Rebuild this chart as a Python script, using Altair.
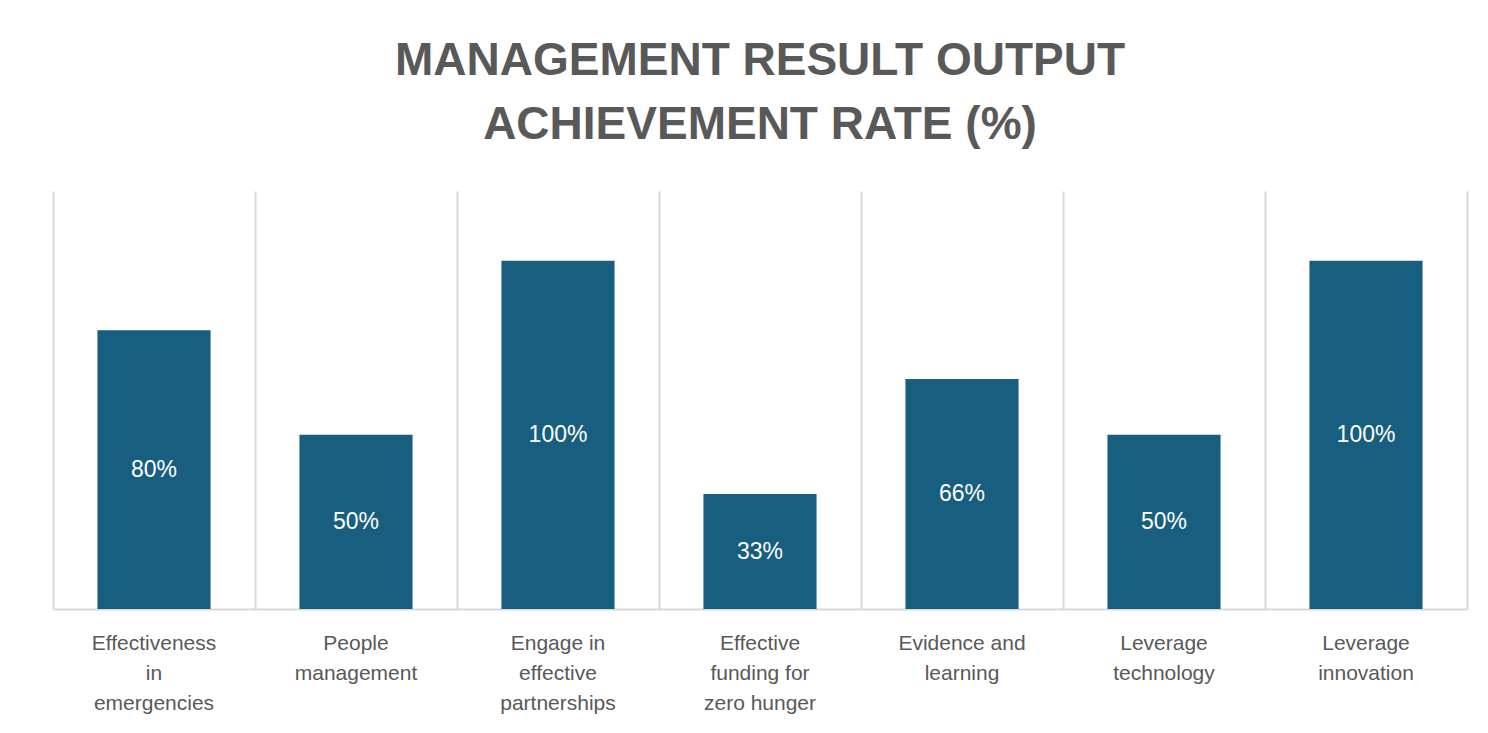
import altair as alt
import pandas as pd

categories = [
    "Effectiveness|in|emergencies",
    "People|management",
    "Engage in|effective|partnerships",
    "Effective|funding for|zero hunger",
    "Evidence and|learning",
    "Leverage|technology",
    "Leverage|innovation",
]
values = [80, 50, 100, 33, 66, 50, 100]
value_labels = ["80%", "50%", "100%", "33%", "66%", "50%", "100%"]

df = pd.DataFrame({"category": categories, "value": values, "label": value_labels})

GRID = "#d9d9d9"
TEXT = "#595959"
BAR = "#175e7f"

x = alt.X(
    "category:N",
    sort=categories,
    scale=alt.Scale(paddingInner=0, paddingOuter=0),
    axis=alt.Axis(
        title=None,
        grid=True,
        bandPosition=0,
        gridColor=GRID,
        gridWidth=2,
        domainColor=GRID,
        domainWidth=2,
        ticks=False,
        labelAngle=0,
        labelPadding=23,
        labelLineHeight=30,
        labelBaseline="top",
        labelFontSize=21,
        labelFont="Liberation Sans",
        labelColor=TEXT,
        labelExpr="split(datum.label, '|')",
    ),
)

y = alt.Y(
    "value:Q",
    scale=alt.Scale(domain=[0, 120]),
    axis=alt.Axis(
        orient="right",
        title=None,
        labels=False,
        ticks=False,
        grid=False,
        domain=True,
        domainColor=GRID,
        domainWidth=2,
    ),
)

bars = alt.Chart(df).mark_bar(
    color=BAR, width=alt.RelativeBandSize(0.56)
).encode(x=x, y=y)

text = alt.Chart(df).transform_calculate(
    half="datum.value / 2"
).mark_text(
    color="white", fontSize=23, font="Liberation Sans", baseline="middle", align="center"
).encode(
    x=alt.X("category:N", sort=categories),
    y=alt.Y("half:Q"),
    text="label:N",
)

chart = alt.layer(bars, text).properties(
    width=1414,
    height=418,
    autosize=alt.AutoSizeParams(type="none"),
    padding={"left": 45, "top": 183, "right": 13, "bottom": 116},
    title=alt.TitleParams(
        text=["MANAGEMENT RESULT OUTPUT", "ACHIEVEMENT RATE (%)"],
        anchor="middle",
        frame="group",
        fontSize=46,
        font="Liberation Sans",
        fontWeight="bold",
        color=TEXT,
        lineHeight=64,
        offset=42,
    ),
).configure(background="white").configure_view(stroke=None)

chart.save("out.html", embed_options={"renderer": "svg", "actions": False})
